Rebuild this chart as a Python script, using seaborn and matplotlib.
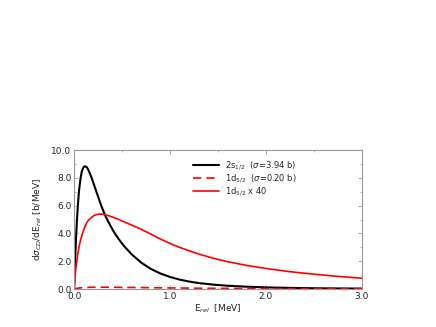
import numpy as np
import pandas as pd
import matplotlib
matplotlib.use("Agg")
import matplotlib.pyplot as plt
import seaborn as sns
from matplotlib.ticker import MultipleLocator, FormatStrFormatter

# values
e_2s = [0, 0.005, 0.01, 0.02, 0.03, 0.04, 0.05, 0.06, 0.07, 0.08, 0.09, 0.1,
        0.11, 0.12, 0.13, 0.14, 0.15, 0.165, 0.18, 0.2, 0.22, 0.25, 0.28, 0.3,
        0.33, 0.375, 0.42, 0.47, 0.52, 0.6, 0.7, 0.8, 0.9, 1.0, 1.1, 1.2, 1.3,
        1.45, 1.6, 1.8, 2.0, 2.25, 2.5, 2.75, 3.0]
y_2s = [0, 1.0, 2.0, 3.7, 5.0, 6.1, 7.0, 7.6, 8.1, 8.45, 8.65, 8.78,
        8.83, 8.82, 8.78, 8.68, 8.55, 8.3, 8.05, 7.65, 7.25, 6.65, 6.05, 5.7,
        5.2, 4.6, 4.05, 3.55, 3.1, 2.5, 1.9, 1.45, 1.12, 0.87, 0.68, 0.54, 0.43,
        0.32, 0.24, 0.17, 0.12, 0.085, 0.06, 0.045, 0.035]

e_1d = [0, 0.01, 0.02, 0.035, 0.05, 0.07, 0.09, 0.11, 0.13, 0.15, 0.18, 0.21,
        0.24, 0.27, 0.3, 0.35, 0.4, 0.45, 0.5, 0.6, 0.7, 0.8, 0.9, 1.0, 1.1,
        1.2, 1.3, 1.45, 1.6, 1.8, 2.0, 2.25, 2.5, 2.75, 3.0]
y_1d_x40 = [0, 0.9, 1.6, 2.4, 3.0, 3.6, 4.05, 4.45, 4.75, 4.95, 5.15, 5.3,
            5.37, 5.4, 5.38, 5.3, 5.18, 5.05, 4.9, 4.6, 4.3, 3.95, 3.6, 3.28, 3.0,
            2.75, 2.52, 2.22, 1.97, 1.7, 1.48, 1.25, 1.07, 0.91, 0.78]
y_1d = [0, 0.022, 0.04, 0.06, 0.075, 0.09, 0.101, 0.111, 0.119, 0.124, 0.129, 0.1325,
        0.134, 0.135, 0.1345, 0.1325, 0.1295, 0.126, 0.1225, 0.115, 0.1075, 0.099, 0.09,
        0.082, 0.075, 0.069, 0.063, 0.0555, 0.049, 0.0425, 0.037, 0.031, 0.027, 0.023,
        0.0195]

labels = [r"2s$_{1/2}$  ($\sigma$=3.94 b)",
          r"1d$_{5/2}$  ($\sigma$=0.20 b)",
          r"1d$_{5/2}$ x 40"]

sns.set_style("ticks")
plt.rcParams["font.family"] = ["DejaVu Sans"]
plt.rcParams["mathtext.fontset"] = "dejavusans"

fig = plt.figure(figsize=(4.36, 3.27), dpi=100)
ax = fig.add_axes([0.170, 0.116, 0.660, 0.425])

sns.lineplot(x=e_2s, y=y_2s, ax=ax, color="black", lw=1.5, label=labels[0])
sns.lineplot(x=e_1d, y=y_1d, ax=ax, color="red", lw=1.2, label=labels[1])
ax.lines[-1].set_linestyle((0, (5, 3)))
sns.lineplot(x=e_1d, y=y_1d_x40, ax=ax, color="red", lw=1.2, label=labels[2])

ax.set_xlim(0, 3.0)
ax.set_ylim(0, 10.0)
ax.xaxis.set_major_locator(MultipleLocator(1.0))
ax.xaxis.set_minor_locator(MultipleLocator(0.5))
ax.yaxis.set_major_locator(MultipleLocator(2.0))
ax.yaxis.set_minor_locator(MultipleLocator(1.0))
ax.xaxis.set_major_formatter(FormatStrFormatter("%.1f"))
ax.yaxis.set_major_formatter(FormatStrFormatter("%.1f"))
ax.tick_params(which="both", direction="in", top=True, right=True,
               color="#999999", labelsize=6.5, pad=2)
ax.tick_params(which="major", length=3, width=0.6)
ax.tick_params(which="minor", length=1.5, width=0.5)
for s in ax.spines.values():
    s.set_color("#999999")
    s.set_linewidth(0.8)

ax.set_xlabel(r"E$_{rel}$  [MeV]", fontsize=6.5, labelpad=1)
ax.set_ylabel(r"d$\sigma_{CD}$/dE$_{rel}$ [b/MeV]", fontsize=6.5, labelpad=5)

ax.legend(loc="upper left", bbox_to_anchor=(0.413, 0.935), frameon=False,
          fontsize=6, handlelength=3.1, handletextpad=0.7, labelspacing=0.02,
          borderpad=0, borderaxespad=0)

fig.savefig("out.png", dpi=100)
